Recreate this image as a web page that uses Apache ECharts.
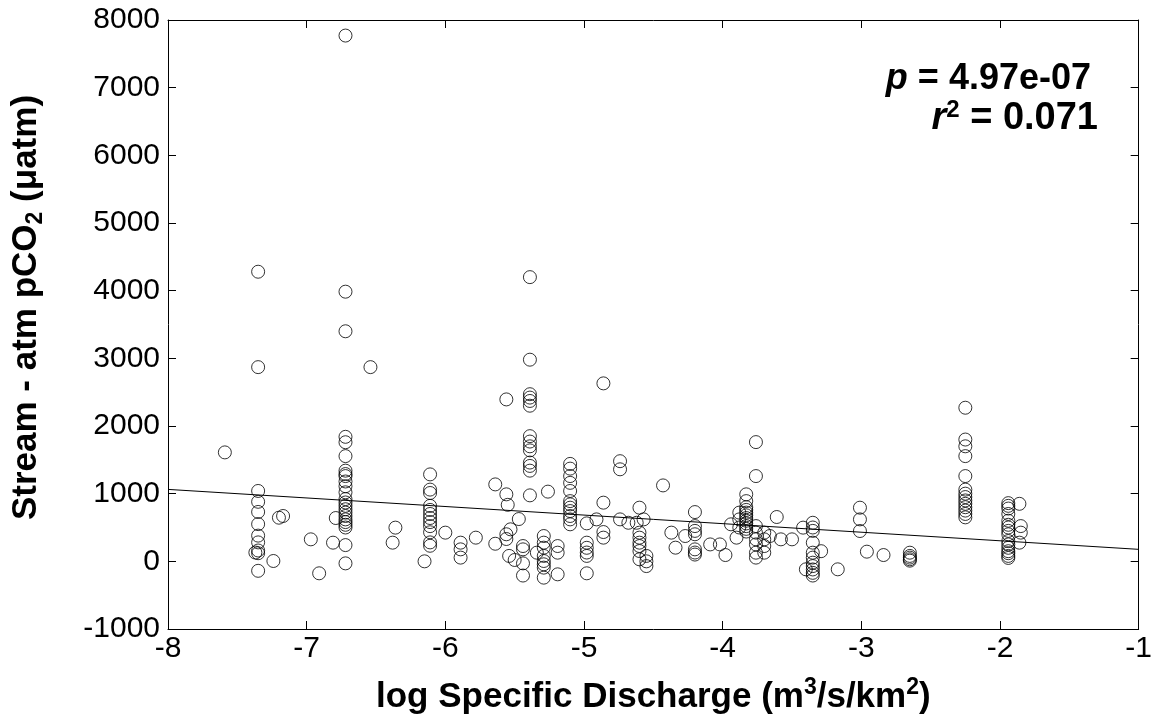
<!DOCTYPE html>
<html>
<head>
<meta charset="utf-8">
<title>Stream - atm pCO2 vs log Specific Discharge</title>
<script src="https://cdn.jsdelivr.net/npm/echarts@6/dist/echarts.min.js"></script>
<style>
    html, body { margin: 0; padding: 0; background: #fff; }
    #chart { width: 1155px; height: 727px; }
</style>
</head>
<body>
<div id="chart"></div>
<script>
// Axis ticks
const xTicks = [-8, -7, -6, -5, -4, -3, -2, -1];
const yTicks = [-1000, 0, 1000, 2000, 3000, 4000, 5000, 6000, 7000, 8000];

// Observations: [log specific discharge, stream - atm pCO2]
const points = [
    [-7.59, 1610],
    [-7.35, 4280], [-7.35, 2870], [-7.35, 1040], [-7.35, 880], [-7.35, 730], [-7.35, 550],
    [-7.35, 380], [-7.35, 280], [-7.35, 160], [-7.37, 130], [-7.35, 120], [-7.35, -140],
    [-7.24, 5], [-7.20, 645], [-7.17, 670],
    [-6.97, 325], [-6.91, -177], [-6.81, 276], [-6.79, 640],
    [-6.72, 7770], [-6.72, 3985], [-6.72, 3400], [-6.72, 1840], [-6.72, 1760], [-6.72, 1555],
    [-6.72, 1340], [-6.72, 1290], [-6.72, 1260], [-6.72, 1180], [-6.72, 1110], [-6.72, 1020],
    [-6.72, 920], [-6.72, 870], [-6.72, 820], [-6.72, 770], [-6.72, 720], [-6.72, 670],
    [-6.72, 620], [-6.72, 580], [-6.72, 540], [-6.72, 500], [-6.72, 240], [-6.72, -30],
    [-6.54, 2870], [-6.38, 276], [-6.36, 498],
    [-6.11, 1285], [-6.11, 1060], [-6.11, 1010], [-6.11, 820], [-6.11, 760], [-6.11, 700],
    [-6.11, 640], [-6.11, 580], [-6.11, 520], [-6.11, 430], [-6.11, 280], [-6.11, 230],
    [-6.15, 0], [-6.00, 424],
    [-5.89, 276], [-5.89, 177], [-5.89, 55], [-5.78, 350],
    [-5.64, 1137], [-5.56, 2393], [-5.56, 990], [-5.55, 835], [-5.47, 625], [-5.53, 473],
    [-5.56, 400], [-5.56, 330], [-5.64, 260],
    [-5.54, 80], [-5.50, 20], [-5.44, -30], [-5.44, -210], [-5.44, 226], [-5.44, 177],
    [-5.39, 4200], [-5.39, 2980], [-5.39, 2470], [-5.39, 2420], [-5.39, 2370], [-5.39, 2300],
    [-5.39, 1850], [-5.39, 1770], [-5.39, 1700], [-5.39, 1640], [-5.39, 1460], [-5.39, 1410],
    [-5.39, 1340], [-5.39, 975],
    [-5.26, 1030], [-5.34, 128],
    [-5.29, 374], [-5.29, 276], [-5.29, 202], [-5.29, 80], [-5.29, 5], [-5.29, -44],
    [-5.29, -93], [-5.29, -241],
    [-5.19, 226], [-5.19, 128], [-5.19, -192],
    [-5.10, 1440], [-5.10, 1370], [-5.10, 1260], [-5.10, 1160], [-5.10, 1040], [-5.10, 890],
    [-5.10, 842], [-5.10, 793], [-5.10, 743], [-5.10, 670], [-5.10, 620], [-5.10, 547],
    [-4.98, 561], [-4.98, 276], [-4.98, 200], [-4.98, 130], [-4.98, 80], [-4.98, -177],
    [-4.91, 620], [-4.86, 2630], [-4.86, 867], [-4.86, 433], [-4.86, 350],
    [-4.74, 1480], [-4.74, 1360], [-4.74, 620], [-4.68, 570], [-4.62, 570], [-4.57, 620],
    [-4.60, 793], [-4.60, 424], [-4.60, 350], [-4.60, 276], [-4.60, 226], [-4.60, 152], [-4.60, 30],
    [-4.55, 80], [-4.55, 0], [-4.55, -70],
    [-4.43, 1122], [-4.37, 424], [-4.34, 202], [-4.27, 374],
    [-4.20, 728], [-4.20, 521], [-4.20, 450], [-4.20, 400], [-4.20, 177], [-4.20, 130], [-4.20, 100],
    [-4.09, 250], [-4.02, 250], [-3.98, 93], [-3.94, 547], [-3.90, 350],
    [-3.88, 720], [-3.88, 620], [-3.88, 500],
    [-3.83, 990], [-3.83, 890], [-3.83, 800], [-3.83, 760], [-3.83, 720], [-3.83, 680],
    [-3.83, 640], [-3.83, 600], [-3.83, 560], [-3.83, 520], [-3.83, 480], [-3.83, 440],
    [-3.76, 1762], [-3.76, 1260], [-3.76, 521], [-3.76, 424], [-3.76, 325], [-3.76, 250],
    [-3.76, 128], [-3.76, 55],
    [-3.70, 424], [-3.70, 325], [-3.70, 226], [-3.70, 128],
    [-3.66, 374], [-3.61, 655], [-3.58, 325], [-3.50, 325], [-3.42, 498], [-3.40, -118],
    [-3.35, 570], [-3.35, 500], [-3.35, 450], [-3.35, 276], [-3.35, 128], [-3.35, 55],
    [-3.35, -20], [-3.35, -70], [-3.35, -120], [-3.35, -170], [-3.35, -210],
    [-3.29, 150], [-3.17, -118],
    [-3.01, 793], [-3.01, 620], [-3.01, 448], [-2.96, 143], [-2.84, 93],
    [-2.65, 128], [-2.65, 80], [-2.65, 55], [-2.65, 30], [-2.65, 10],
    [-2.25, 2270], [-2.25, 1800], [-2.25, 1700], [-2.25, 1555], [-2.25, 1260], [-2.25, 1060],
    [-2.25, 1000], [-2.25, 950], [-2.25, 900], [-2.25, 850], [-2.25, 800], [-2.25, 750],
    [-2.25, 700], [-2.25, 650],
    [-1.94, 860], [-1.94, 820], [-1.94, 780], [-1.94, 700], [-1.94, 600], [-1.94, 540],
    [-1.94, 500], [-1.94, 450], [-1.94, 400], [-1.94, 300], [-1.94, 250], [-1.94, 200],
    [-1.94, 150], [-1.94, 120], [-1.94, 80], [-1.94, 50],
    [-1.86, 850], [-1.85, 521], [-1.85, 424], [-1.86, 276]
];

// Least-squares fit line end points
const fitLine = [[-8, 1063], [-1, 177]];

const FONT = '"Liberation Sans", Arial, sans-serif';

const chart = echarts.init(document.getElementById('chart'));

function tickAxis(position, showLabel) {
    return {
        type: 'value',
        position: position,
        axisLine: { show: true, onZero: false, lineStyle: { color: '#000', width: 1 } },
        axisTick: { show: true, inside: true, length: 8, lineStyle: { color: '#000' } },
        splitLine: { show: false },
        axisLabel: {
            show: showLabel, color: '#000', fontSize: 30, fontFamily: FONT,
            formatter: v => String(v)
        }
    };
}

const xBottom = Object.assign(tickAxis('bottom', true), {
    min: xTicks[0], max: xTicks[xTicks.length - 1], interval: 1,
    name: '{n|log Specific Discharge (m}{s|3}{n|/s/km}{s|2}{n|)}',
    nameLocation: 'middle',
    nameGap: 47,
    nameTextStyle: {
        rich: {
            n: { fontSize: 35, fontWeight: 'bold', fontFamily: FONT, color: '#000', lineHeight: 42 },
            s: { fontSize: 23, fontWeight: 'bold', fontFamily: FONT, color: '#000', lineHeight: 22, verticalAlign: 'top' }
        }
    }
});
xBottom.axisLabel.margin = 5;

const xTop = Object.assign(tickAxis('top', false), {
    min: xTicks[0], max: xTicks[xTicks.length - 1], interval: 1
});

const yLeft = Object.assign(tickAxis('left', true), {
    min: yTicks[0], max: yTicks[yTicks.length - 1], interval: 1000,
    name: '{n|Stream - atm pCO}{s|2}{n| (μatm)}',
    nameLocation: 'middle',
    nameGap: 121,
    nameRotate: 90,
    nameTextStyle: {
        padding: [0, 0, 0, 34],
        rich: {
            n: { fontSize: 35, fontWeight: 'bold', fontFamily: FONT, color: '#000', lineHeight: 42 },
            s: { fontSize: 23, fontWeight: 'bold', fontFamily: FONT, color: '#000', lineHeight: 22, verticalAlign: 'bottom' }
        }
    }
});
yLeft.axisLabel.margin = 8;

const yRight = Object.assign(tickAxis('right', false), {
    min: yTicks[0], max: yTicks[yTicks.length - 1], interval: 1000
});

const option = {
    backgroundColor: '#fff',
    animation: false,
    grid: { left: 168, right: 16, top: 20, bottom: 98, containLabel: false },
    xAxis: [xBottom, xTop],
    yAxis: [yLeft, yRight],
    graphic: [
        {
            type: 'text',
            right: 64,
            top: 61,
            style: {
                text: '{i|p} = 4.97e-07',
                font: 'bold 36px ' + FONT,
                fill: '#000',
                rich: {
                    i: { fontStyle: 'italic', fontWeight: 'bold', fontSize: 36, fontFamily: FONT, fill: '#000' }
                }
            }
        },
        {
            type: 'text',
            right: 57,
            top: 98,
            style: {
                text: '{i|r}{s|2}{n| = 0.071}',
                fill: '#000',
                rich: {
                    i: { fontStyle: 'italic', fontWeight: 'bold', fontSize: 38, fontFamily: FONT, fill: '#000', lineHeight: 42 },
                    s: { fontWeight: 'bold', fontSize: 24, fontFamily: FONT, fill: '#000', lineHeight: 26, verticalAlign: 'top' },
                    n: { fontWeight: 'bold', fontSize: 38, fontFamily: FONT, fill: '#000', lineHeight: 42 }
                }
            }
        }
    ],
    series: [
        {
            name: 'fit',
            type: 'line',
            data: fitLine,
            symbol: 'none',
            lineStyle: { color: '#000', width: 1 },
            silent: true,
            z: 1
        },
        {
            name: 'pCO2',
            type: 'scatter',
            data: points,
            symbol: 'circle',
            symbolSize: 13,
            itemStyle: { color: 'rgba(0,0,0,0)', borderColor: '#000', borderWidth: 1 },
            z: 2
        }
    ]
};

chart.setOption(option);
</script>
</body>
</html>
